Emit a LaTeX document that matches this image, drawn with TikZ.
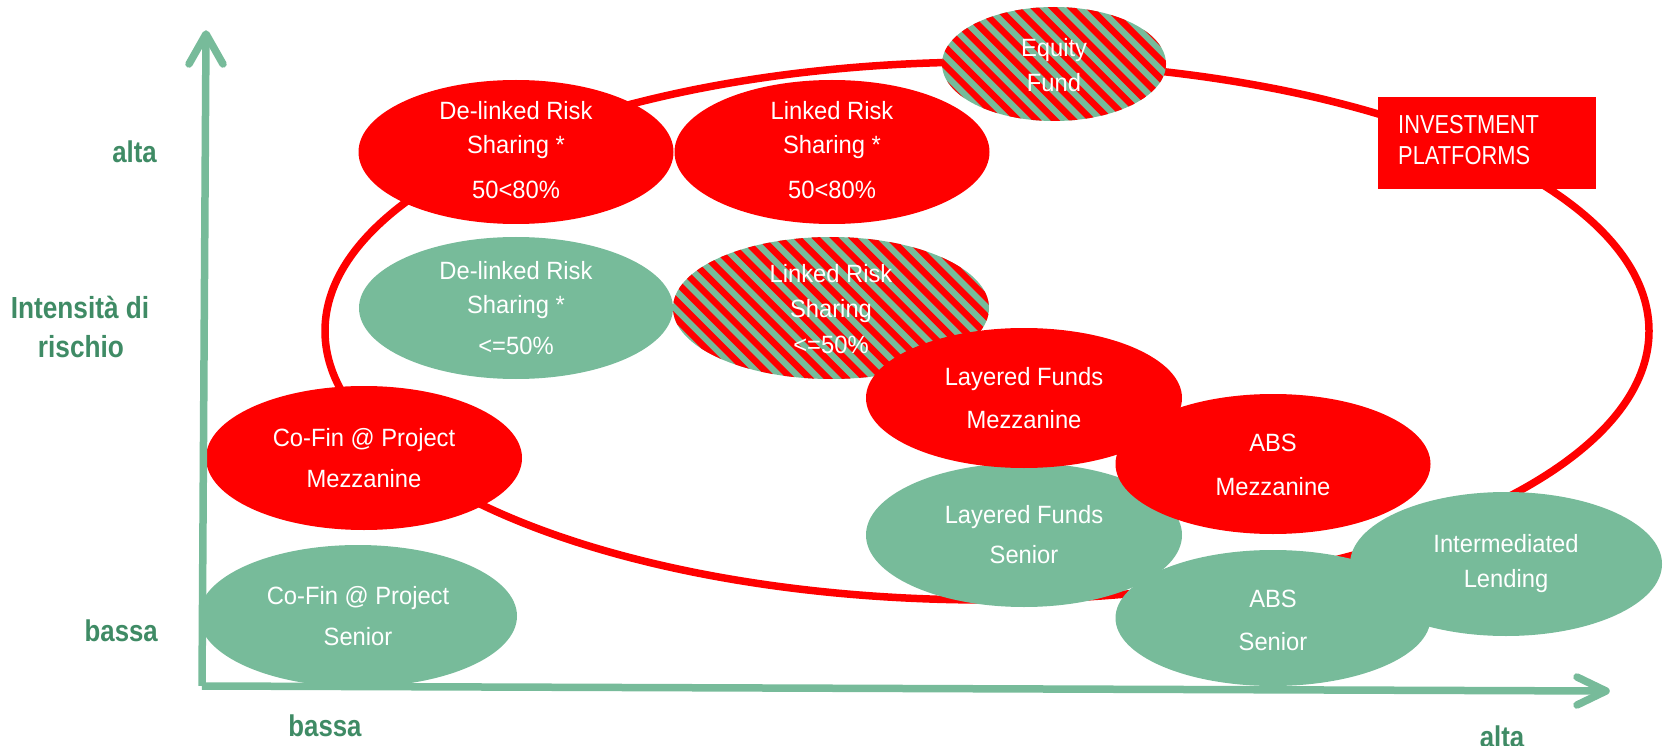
\documentclass[tikz,border=0pt]{standalone}
\usepackage{fontspec}
\setmainfont{Liberation Sans}
\newfontfamily\elfont{Liberation Sans}[FakeStretch=0.95]
\newfontfamily\ipfont{Liberation Sans}[FakeStretch=0.84]
\newfontfamily\axfont{Liberation Sans}[FakeStretch=0.86]
\usetikzlibrary{shapes.geometric,calc}
\definecolor{egreen}{HTML}{77BB9A}
\definecolor{ered}{HTML}{FF0000}
\definecolor{lgreen}{HTML}{3F8B65}
\begin{document}
\begin{tikzpicture}[x=1pt,y=-1pt,
  ell/.style={ellipse, inner sep=0pt, minimum width=315pt, minimum height=144pt},
  redell/.style={ell, fill=ered},
  greenell/.style={ell, fill=egreen},
  hatchell/.style={ell, fill=egreen, path picture={
      \foreach \k in {-17,...,17}{
        \draw[ered, line width=6.5pt] ([xshift=\k*18.4pt]path picture bounding box.center) ++(-220pt,220pt) -- ++(440pt,-440pt);}
    }},
  etext/.style={text=white, align=center, inner sep=0pt, font=\elfont\fontsize{25}{#1}\selectfont},
  etext/.default=42,
  ring/.style={draw=ered, line width=7.5pt, ellipse, inner sep=0pt},
  iprect/.style={fill=ered, inner sep=0pt, minimum width=218pt, minimum height=92pt},
  iptext/.style={text=white, inner sep=0pt, anchor=base west, font=\ipfont\fontsize{26}{31}\selectfont},
  axlab/.style={text=lgreen, inner sep=0pt, font=\axfont\bfseries\fontsize{30}{39}\selectfont},
  axlabbig/.style={text=lgreen, inner sep=0pt, font=\axfont\bfseries\fontsize{30.5}{39}\selectfont},
  axisline/.style={draw=egreen, line width=7.5pt},
  axishead/.style={draw=egreen, line width=7.5pt, line cap=round, line join=round}
]
\useasboundingbox (0,0) rectangle (1671,746);

% big ring of investment platforms
\node[ring, minimum width=1324pt, minimum height=538pt] (ring) at (987,331) {};

% top row
\node[redell] (dlrR) at (516,152) {};
\node[etext=34] (dlrRt) at (516,150) {De-linked Risk\\Sharing *\\[11pt]50<80\%};
\node[redell] (lrR) at (832,152) {};
\node[etext=34] (lrRt) at (832,150) {Linked Risk\\Sharing *\\[11pt]50<80\%};
\node[hatchell, minimum width=224pt, minimum height=114pt] (eq) at (1054,64) {};
\node[etext=35] (eqt) at (1054,65) {Equity\\Fund};
\node[iprect] (ip) at (1487,143) {};
\node[iptext] (ip1) at (1398,134) {INVESTMENT};
\node[iptext] (ip2) at (1398,165) {PLATFORMS};

% second row
\node[greenell, minimum width=314pt, minimum height=142pt] (dlrG) at (516,308) {};
\node[etext=34] (dlrGt) at (516,308) {De-linked Risk\\Sharing *\\[7pt]<=50\%};
\node[hatchell, minimum width=316pt, minimum height=142pt] (lrH) at (831,308) {};
\node[etext=35.5] (lrHt) at (831,309) {Linked Risk\\Sharing\\<=50\%};

% layered funds and ABS
\node[greenell, minimum width=316pt] (lfS) at (1024,535) {};
\node[etext=40] (lfSt) at (1024,535) {Layered Funds\\Senior};
\node[redell, minimum width=316pt, minimum height=140pt] (lfM) at (1024,398) {};
\node[etext=43] (lfMt) at (1024,398) {Layered Funds\\Mezzanine};
\node[redell, minimum height=140pt] (absM) at (1273,464) {};
\node[etext=44] (absMt) at (1273,465) {ABS\\Mezzanine};

% co-financing
\node[redell, minimum width=316pt] (cfM) at (364,458) {};
\node[etext=41.5] (cfMt) at (364,458) {Co-Fin @ Project\\Mezzanine};
\node[greenell, minimum width=318pt, minimum height=142pt] (cfS) at (358,616) {};
\node[etext=41] (cfSt) at (358,616) {Co-Fin @ Project\\Senior};

% bottom right
\node[greenell, minimum width=312pt] (intL) at (1506,564) {};
\node[etext=35] (intLt) at (1506,564) {Intermediated\\Lending};
\node[greenell, minimum height=136pt] (absS) at (1273,618) {};
\node[etext=43] (absSt) at (1273,620) {ABS\\Senior};

% axes
\coordinate (O) at (202,686);
\coordinate (ytip) at (206,34);
\coordinate (xtip) at (1606,691);
\draw[axisline] (O) -- (ytip);
\draw[axisline] (O) -- (xtip);
\draw[axishead] ($(ytip)+(-17,30)$) -- (ytip) -- ($(ytip)+(17,30)$);
\draw[axishead] ($(xtip)+(-29,-14)$) -- (xtip) -- ($(xtip)+(-29,14)$);

% axis labels
\node[axlab, anchor=base east] (yalta) at (157,163) {alta};
\node[axlab, anchor=base east] (ybassa) at (158,641) {bassa};
\node[axlabbig, anchor=base] (yint1) at (80,318) {Intensità di};
\node[axlabbig, anchor=base] (yint2) at (81,357) {rischio};
\node[axlab, anchor=base] (xbassa) at (325,736) {bassa};
\node[axlab, anchor=base] (xalta) at (1502,747) {alta};
\end{tikzpicture}
\end{document}
